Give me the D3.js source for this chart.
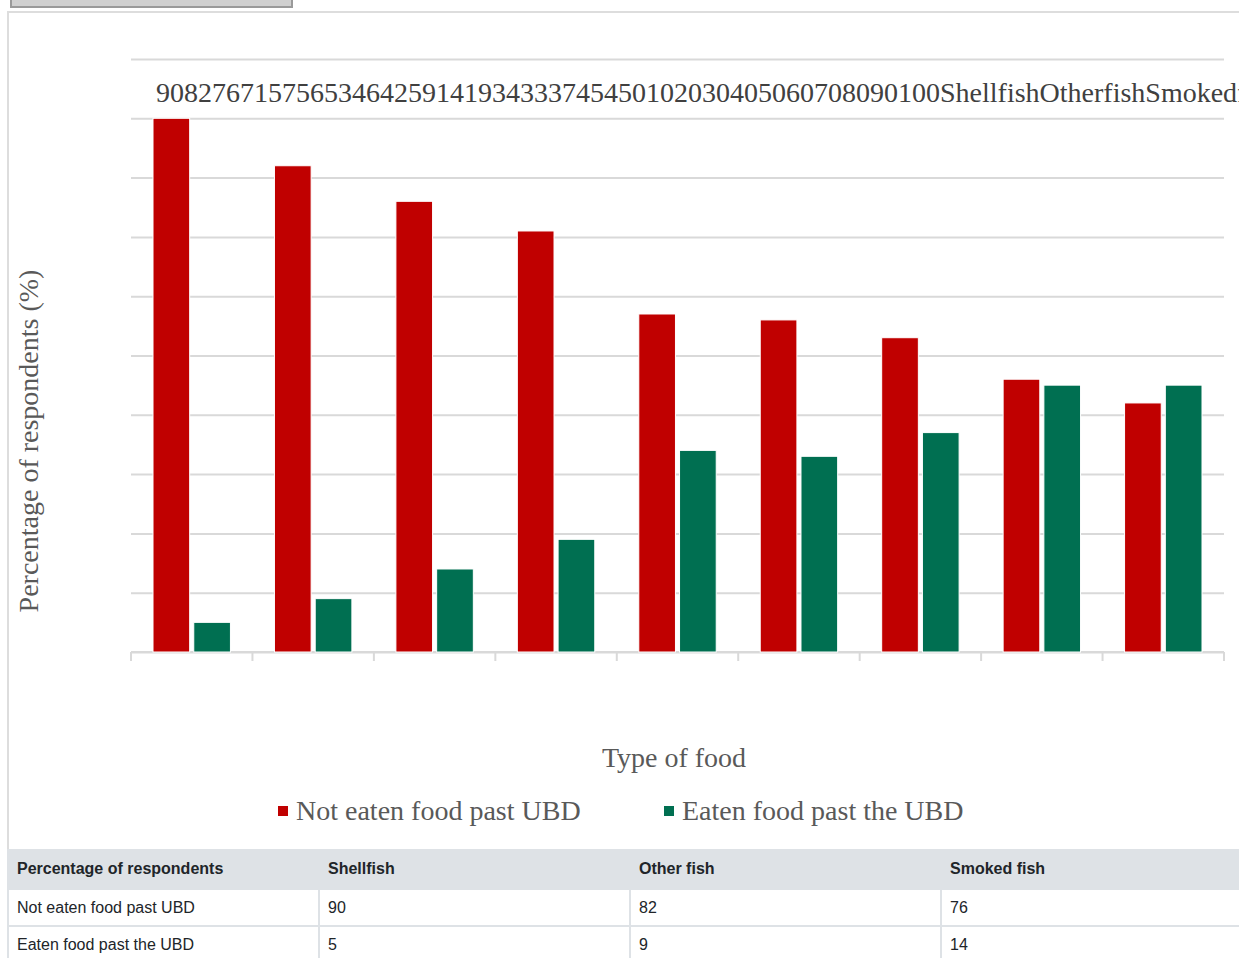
<!DOCTYPE html>
<html>
<head>
<meta charset="utf-8">
<script src="https://cdn.jsdelivr.net/npm/d3@7/dist/d3.min.js"></script>
<style>
  html, body { margin: 0; padding: 0; overflow: hidden; background: #fff; width: 1239px; height: 958px; }
  .toggle {
    position: absolute; left: 10px; top: -32px; width: 279px; height: 36px;
    background: #d0d0d0; border: 2px solid #9a9a9a;
  }
  .panel {
    position: absolute; left: 7px; top: 11px; width: 3200px; height: 836px;
    border-left: 2px solid #dddddd; border-top: 2px solid #dddddd;
  }
  svg { position: absolute; left: 0; top: 0; }
  table.data {
    position: absolute; left: 7px; top: 849px; border-collapse: collapse; table-layout: fixed;
    width: 3110px;
    font: 16px "Liberation Sans", Arial, sans-serif; color: #212529;
  }
  table.data th, table.data td {
    box-sizing: border-box; width: 311px; padding: 0 8px; text-align: left; white-space: nowrap;
    border: 2px solid #dee2e6;
  }
  table.data th { background: #dee2e6; height: 40px; font-weight: bold; border-top: none; }
  table.data td { height: 37px; }
</style>
</head>
<body>
<div class="toggle"></div>
<div class="panel"></div>
<div id="chart"></div>
<script>
// Food types surveyed (percentage of respondents)
const categories = ["Shellfish", "Other fish", "Smoked fish", "Raw meat", "Cooked meat",
                    "Bagged salad", "Cooked rice", "Yoghurt", "Hard cheese"];
const seriesNames = ["Not eaten food past UBD", "Eaten food past the UBD"];
const notEaten = [90, 82, 76, 71, 57, 56, 53, 46, 42];
const eaten = [5, 9, 14, 19, 34, 33, 37, 45, 45];
const yTicks = [0, 10, 20, 30, 40, 50, 60, 70, 80, 90, 100];
const colors = ["#c00000", "#006f51"];

const W = 1239, H = 958;
const svg = d3.select("#chart").append("svg").attr("width", W).attr("height", H);

const x0 = d3.scaleBand().domain(categories).range([131, 1224]).padding(0);
const x1 = d3.scaleBand().domain(seriesNames).range([0, x0.bandwidth()])
  .paddingInner(0.1).paddingOuter(0.54);
const y = d3.scaleLinear().domain([0, 100]).range([652, 59]);

// Gridlines
svg.append("g")
  .attr("transform", "translate(131,0)")
  .call(d3.axisLeft(y).tickValues(yTicks).tickSize(-(1224 - 131)).tickFormat(""))
  .call(g => g.select(".domain").remove())
  .call(g => g.selectAll("line").attr("stroke", "#d9d9d9").attr("stroke-width", 2));

// Category axis with separators between groups
const sepTicks = categories.map(c => x0(c)).concat([1224]);
svg.append("g")
  .selectAll("line").data(sepTicks).join("line")
  .attr("x1", d => d).attr("x2", d => d).attr("y1", 652).attr("y2", 661)
  .attr("stroke", "#d9d9d9").attr("stroke-width", 2);
svg.append("line")
  .attr("x1", 131).attr("x2", 1224).attr("y1", y(0)).attr("y2", y(0))
  .attr("stroke", "#d9d9d9").attr("stroke-width", 2);

// Bars
const rows = categories.map((c, i) => ({ cat: c, vals: [notEaten[i], eaten[i]] }));
const groups = svg.append("g").selectAll("g").data(rows).join("g")
  .attr("transform", d => `translate(${x0(d.cat)},0)`);
groups.selectAll("rect")
  .data(d => d.vals.map((v, j) => ({ s: seriesNames[j], v, j })))
  .join("rect")
  .attr("x", d => x1(d.s))
  .attr("width", x1.bandwidth())
  .attr("y", d => y(d.v))
  .attr("height", d => y(0) - y(d.v))
  .attr("fill", d => colors[d.j])
  .attr("stroke", "#ffffff").attr("stroke-width", 1);

// Label strip: value labels, tick labels and category names laid out on one line
const stripText = notEaten.join("") + eaten.join("") + yTicks.join("") +
  categories.map(c => c.replace(/\s+/g, "")).join("");
svg.append("text")
  .attr("x", 156).attr("y", 102)
  .attr("font-family", "'Liberation Serif', 'Times New Roman', serif")
  .attr("font-size", 28).attr("fill", "#404040")
  .text(stripText);

// Axis titles
svg.append("text")
  .attr("transform", "translate(38,441) rotate(-90)")
  .attr("text-anchor", "middle")
  .attr("font-family", "'Liberation Serif', 'Times New Roman', serif")
  .attr("font-size", 28).attr("fill", "#595959")
  .text("Percentage of respondents (%)");
svg.append("text")
  .attr("x", 674).attr("y", 767)
  .attr("text-anchor", "middle")
  .attr("font-family", "'Liberation Serif', 'Times New Roman', serif")
  .attr("font-size", 28).attr("fill", "#595959")
  .text("Type of food");

// Legend
const legendX = [278, 664];
const legend = svg.append("g").selectAll("g").data(seriesNames).join("g")
  .attr("transform", (d, i) => `translate(${legendX[i]},0)`);
legend.append("rect")
  .attr("x", 0).attr("y", 806).attr("width", 10).attr("height", 10)
  .attr("fill", (d, i) => colors[i]);
legend.append("text")
  .attr("x", 18).attr("y", 820)
  .attr("font-family", "'Liberation Serif', 'Times New Roman', serif")
  .attr("font-size", 28).attr("fill", "#595959")
  .text(d => d);

// Data table
const table = d3.select("body").append("table").attr("class", "data");
const head = table.append("thead").append("tr");
head.selectAll("th").data(["Percentage of respondents"].concat(categories)).join("th").text(d => d);
const body = table.append("tbody");
[notEaten, eaten].forEach((vals, i) => {
  const tr = body.append("tr");
  tr.selectAll("td").data([seriesNames[i]].concat(vals)).join("td").text(d => d);
});
</script>
</body>
</html>
